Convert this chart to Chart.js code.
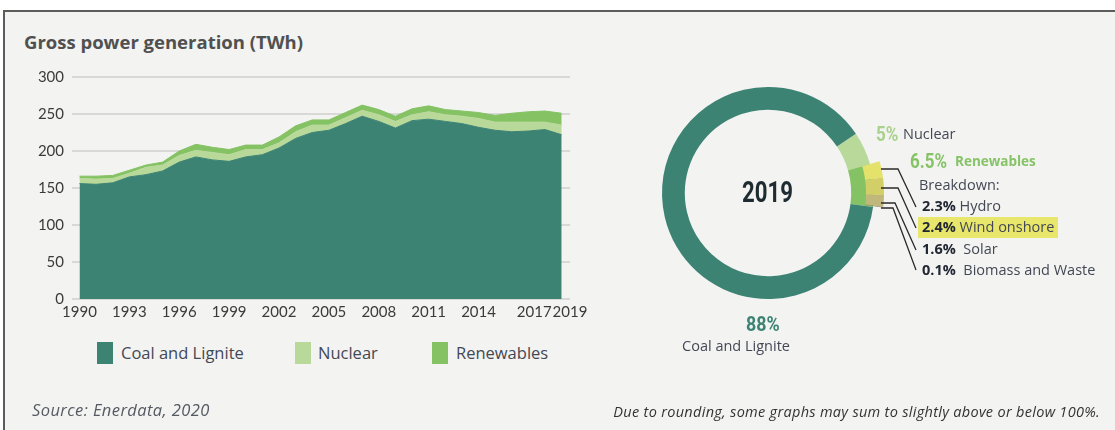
<!DOCTYPE html>
<html>
<head>
<meta charset="utf-8">
<script src="https://cdn.jsdelivr.net/npm/chart.js@4.4.1/dist/chart.umd.min.js"></script>
<style>
  body { margin: 0; width: 1115px; height: 430px; background: #fff; position: relative; overflow: hidden; font-family: 'Open Sans', Lato, sans-serif; color: #434855; }
  #frame { position: absolute; left: 3px; top: 10px; width: 1200px; height: 500px; border: 2px solid #5c5c5c; background: #f3f3f1; }
  .t { position: absolute; white-space: nowrap; line-height: 20px; }
  .num { position: absolute; white-space: nowrap; font-family: Roboto, sans-serif; font-weight: bold; transform-origin: left center; }
  .sq { position: absolute; width: 16px; height: 22px; }
  canvas { position: absolute; }
  b { color: #222833; }
</style>
</head>
<body>
<div id="frame"></div>
<div class="t" style="left:24px;top:32px;font-weight:bold;font-size:18.5px;color:#505050">Gross power generation (TWh)</div>

<canvas id="area" width="590" height="262" style="left:0;top:60px"></canvas>

<div class="sq" style="left:97px;top:342px;background:#3d8374"></div>
<div class="t" style="left:121px;top:343px;font-size:16.5px">Coal and Lignite</div>
<div class="sq" style="left:295px;top:342px;background:#b8d99a"></div>
<div class="t" style="left:318px;top:343px;font-size:16.5px">Nuclear</div>
<div class="sq" style="left:432px;top:342px;background:#84c264"></div>
<div class="t" style="left:456px;top:343px;font-size:16.5px">Renewables</div>

<canvas id="ring" width="260" height="260" style="left:638px;top:63px"></canvas>
<canvas id="split" width="260" height="260" style="left:638px;top:63px"></canvas>

<div class="num" style="left:742px;top:176px;font-size:30px;line-height:32px;color:#1e2b30;transform:scaleX(0.74)">2019</div>
<div class="num" style="left:746px;top:312px;font-size:21px;line-height:24px;color:#3d8374;transform:scaleX(0.85)">88%</div>
<div class="t" style="left:661px;top:336px;width:150px;text-align:center;font-size:14.5px">Coal and Lignite</div>

<div class="num" style="left:876px;top:122px;font-size:20px;line-height:24px;color:#a9d18e;transform:scaleX(0.85)">5%</div>
<div class="t" style="left:903px;top:124px;font-size:14.5px">Nuclear</div>
<div class="num" style="left:910px;top:149px;font-size:20px;line-height:24px;color:#86c366;transform:scaleX(0.85)">6.5%</div>
<div class="t" style="left:955px;top:151px;font-size:13.5px;font-weight:bold;color:#86c366">Renewables</div>
<div class="t" style="left:919px;top:175px;font-size:14.5px">Breakdown:</div>
<div style="position:absolute;left:918px;top:217px;width:140px;height:21px;background:#e8e76c"></div>
<div class="t" style="left:922px;top:196px;font-size:14.5px"><b>2.3%</b> Hydro</div>
<div class="t" style="left:922px;top:217px;font-size:14.5px"><b>2.4%</b> Wind onshore</div>
<div class="t" style="left:922px;top:239px;font-size:14.5px"><b>1.6%</b>&nbsp; Solar</div>
<div class="t" style="left:922px;top:260px;font-size:14.5px"><b>0.1%</b>&nbsp; Biomass and Waste</div>

<svg style="position:absolute;left:0;top:0" width="1115" height="430">
  <g fill="none" stroke="#2b2b2b" stroke-width="1.3">
    <polyline points="881,169 898,169 916,207"/>
    <polyline points="881,188 898,188 916,228"/>
    <polyline points="881,203 895,203 916,250"/>
    <polyline points="881,208 893,208 916,270"/>
  </g>
</svg>

<div class="t" style="left:32px;top:400px;font-size:16.5px;letter-spacing:0.4px;font-style:italic;color:#555a63">Source: Enerdata, 2020</div>
<div class="t" style="right:15px;top:402px;font-size:14.5px;letter-spacing:0.3px;font-style:italic;color:#333">Due to rounding, some graphs may sum to slightly above or below 100%.</div>

<script>
// values (TWh)
const years = [1990,1991,1992,1993,1994,1995,1996,1997,1998,1999,2000,2001,2002,2003,2004,
  2005,2006,2007,2008,2009,2010,2011,2012,2013,2014,2015,2016,2017,2018,2019];
const coal = [156,155,157,165,168,173,185,192,188,186,192,195,204,217,225,
  228,237,247,240,231,241,243,240,237,232,228,226,227,229,222];
const nuclear = [7,7,6,5,10,8,9,9,10,9,10,7,7,9,10,
  7,8,8,9,9,8,10,9,10,12,11,13,12,10,13];
const renewables = [3,4,4,4,3,4,6,8,7,7,6,6,8,8,7,
  7,7,7,7,7,8,8,7,7,8,9,12,14,15,16];
const yearTicks = [1990,1993,1996,1999,2002,2005,2008,2011,2014,2017,2019];

// 2019 shares (%)
const shareLabels = ['Nuclear', 'Renewables', 'Coal and Lignite'];
const shares = [5, 6.5, 88];
const breakdownLabels = ['Hydro', 'Wind onshore', 'Solar', 'Biomass and Waste'];
const breakdown = [2.3, 2.4, 1.6, 0.1];

const COAL = '#3d8374', NUC = '#b8d99a', REN = '#84c264';
const font = { family: 'Lato', size: 15 };
// the last two year labels sit a bit to the right so they don't collide
const labelShift = { 2017: 0.35, 2019: 0.5 };

const pts = (arr) => arr.map((v, i) => ({ x: years[i], y: v }));
const series = (label, arr, color, fill) => ({
  label, data: pts(arr), fill, backgroundColor: color, borderColor: color,
  borderWidth: 1, pointRadius: 0, tension: 0,
});

new Chart(document.getElementById('area'), {
  type: 'line',
  data: {
    datasets: [
      series('Coal and Lignite', coal, COAL, 'origin'),
      series('Nuclear', nuclear, NUC, '-1'),
      series('Renewables', renewables, REN, '-1'),
    ],
  },
  options: {
    responsive: false,
    animation: false,
    layout: { padding: { top: 16, right: 20 } },
    plugins: { legend: { display: false }, tooltip: { enabled: false } },
    scales: {
      x: {
        type: 'linear', min: 1989.55, max: 2019.5,
        grid: { display: false }, border: { display: false },
        afterBuildTicks: (s) => { s.ticks = yearTicks.map((v) => ({ value: v + (labelShift[v] || 0) })); },
        afterFit: (s) => { s.height = 23; },
        ticks: { font, color: '#3b3b3b', padding: -4, maxRotation: 0, autoSkip: false, callback: (v) => String(Math.floor(v)) },
      },
      y: {
        stacked: true, min: 0, max: 300,
        border: { display: false },
        grid: { color: '#d8d8d6', lineWidth: 2, drawTicks: false },
        afterFit: (s) => { s.width = 72; },
        ticks: { font, color: '#3b3b3b', stepSize: 50, padding: 8 },
      },
    },
  },
});

const ringRotation = 56;
const total = shares.reduce((a, b) => a + b, 0);

new Chart(document.getElementById('ring'), {
  type: 'doughnut',
  data: { labels: shareLabels, datasets: [{ data: shares, backgroundColor: [NUC, REN, COAL], borderWidth: 0 }] },
  options: {
    responsive: false, animation: false,
    radius: 106, cutout: '78.5%', rotation: ringRotation,
    plugins: { legend: { display: false }, tooltip: { enabled: false } },
  },
});

// outer sliver showing the renewables breakdown, starting where renewables start
const rest = 100 - breakdown.reduce((a, b) => a + b, 0);
new Chart(document.getElementById('split'), {
  type: 'doughnut',
  data: {
    labels: [...breakdownLabels, ''],
    datasets: [{
      data: [...breakdown, rest],
      backgroundColor: ['#e4e26a', '#d3cf68', '#c0b87a', '#9a9070', 'rgba(0,0,0,0)'],
      borderWidth: 0,
    }],
  },
  options: {
    responsive: false, animation: false,
    radius: 116, cutout: '84.5%', rotation: ringRotation + shares[0] / total * 360,
    plugins: { legend: { display: false }, tooltip: { enabled: false } },
  },
});
</script>
</body>
</html>
